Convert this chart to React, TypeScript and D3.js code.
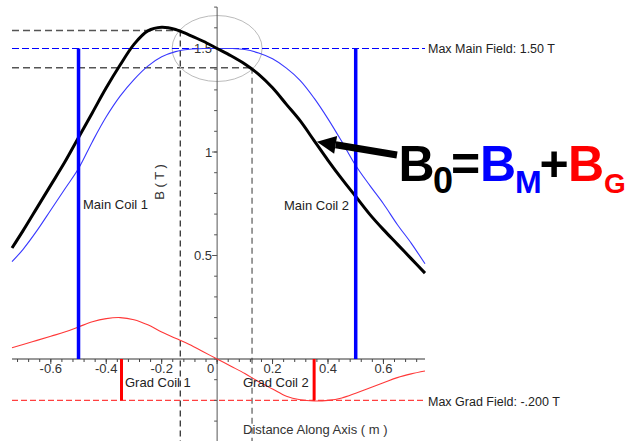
import React from "react";
import * as d3 from "d3";

// Positions along the magnet axis (m)
const positions = [
  -0.74, -0.7, -0.65, -0.6, -0.55, -0.5, -0.45, -0.4, -0.35, -0.3, -0.25, -0.2, -0.15, -0.1, -0.05, 0,
  0.05, 0.1, 0.15, 0.2, 0.25, 0.3, 0.35, 0.4, 0.45, 0.5, 0.55, 0.6, 0.65, 0.7, 0.75,
];

// Main-coil field B_M (T)
const mainField = [
  0.47, 0.53, 0.62, 0.72, 0.82, 0.92, 1.05, 1.17, 1.27, 1.35, 1.415, 1.46, 1.485, 1.496, 1.5, 1.5,
  1.5, 1.495, 1.478, 1.45, 1.405, 1.345, 1.26, 1.16, 1.05, 0.935, 0.84, 0.75, 0.65, 0.56, 0.46,
];

// Gradient-coil field B_G (T)
const gradField = [
  0.054, 0.07, 0.09, 0.11, 0.13, 0.155, 0.18, 0.195, 0.2, 0.19, 0.165, 0.13, 0.1, 0.07, 0.035, 0,
  -0.035, -0.07, -0.11, -0.145, -0.18, -0.197, -0.203, -0.2, -0.188, -0.165, -0.14, -0.115, -0.09, -0.072, -0.058,
];

// Total field B_0 (T)
const totalField = [
  0.536, 0.62, 0.73, 0.84, 0.95, 1.07, 1.19, 1.31, 1.42, 1.52, 1.585, 1.603, 1.592, 1.565, 1.535, 1.5,
  1.465, 1.425, 1.375, 1.31, 1.23, 1.15, 1.055, 0.96, 0.87, 0.785, 0.7, 0.625, 0.555, 0.485, 0.415,
];

const mainCoils = [-0.5, 0.5];
const mainCoilLabels = ["Main Coil 1", "Main Coil 2"];
const gradCoils = [-0.345, 0.35];
const gradCoilLabels = ["Grad Coil 1", "Grad Coil 2"];
const maxMainField = 1.5;
const maxGradField = -0.2;
const markerXs = [-0.133, 0.126];
const markerB = [1.587, 1.407];
const xMajorTicks = [-0.6, -0.4, -0.2, 0, 0.2, 0.4, 0.6];
const yMajorTicks = [0.5, 1, 1.5];
const yTickLabels = ["0.5", "1", "1.5"];
const arrowTarget = { x: 0.36, b: 1.05 };

const W = 628;
const H = 441;
const FONT = "'Liberation Sans', Arial, Helvetica, sans-serif";

export default function App() {
  const x = d3.scaleLinear().domain([-0.74, 0.75]).range([12, 425]);
  const y = d3.scaleLinear().domain([-0.4, 1.7]).range([441.8, 7.1]);
  const [x0, x1] = x.range();

  const line = (vals: number[]) =>
    d3
      .line<number>()
      .x((_, i) => x(positions[i]))
      .y((v) => y(v))
      .curve(d3.curveCatmullRom.alpha(0.5))(vals) || "";

  const xMinor = d3.range(-0.72, 0.7401, 0.04);
  const yMinor = d3.range(-0.3, 1.701, 0.1);

  // annotation arrow
  const tail = { px: 397, py: 155 };
  const tip = { px: x(arrowTarget.x), py: y(arrowTarget.b) };
  const dx = tip.px - tail.px;
  const dy = tip.py - tail.py;
  const len = Math.hypot(dx, dy);
  const ux = dx / len;
  const uy = dy / len;
  const headLen = 19;
  const headHalf = 9;
  const bx = tip.px - ux * headLen;
  const by = tip.py - uy * headLen;
  const head = [
    [tip.px, tip.py],
    [bx - uy * headHalf, by + ux * headHalf],
    [bx + uy * headHalf, by - ux * headHalf],
  ]
    .map((p) => p.join(","))
    .join(" ");

  return (
    <svg
      width={W}
      height={H}
      style={{ position: "absolute", left: 0, top: 0, background: "#fff" }}
      fontFamily={FONT}
    >
      <rect width={W} height={H} fill="#fff" />

      {/* field markers at the two points around the centre */}
      <line x1={x0} x2={x(markerXs[0])} y1={y(markerB[0])} y2={y(markerB[0])} stroke="#555" strokeWidth={1.3} strokeDasharray="7,4" />
      <line x1={x(markerXs[0])} x2={x(markerXs[0])} y1={y(markerB[0])} y2={H} stroke="#111" strokeWidth={1.1} strokeDasharray="6,4" />
      <line x1={x0} x2={x(markerXs[1])} y1={y(markerB[1])} y2={y(markerB[1])} stroke="#555" strokeWidth={1.3} strokeDasharray="7,4" />
      <line x1={x(markerXs[1])} x2={x(markerXs[1])} y1={y(markerB[1])} y2={H} stroke="#666" strokeWidth={1.3} strokeDasharray="6,4" />

      {/* highlight around the centre of the magnet */}
      <ellipse cx={x(0)} cy={y(maxMainField)} rx={45} ry={33} fill="none" stroke="#bbb" strokeWidth={1} />

      {/* max field guides */}
      <line x1={x0} x2={x1} y1={y(maxMainField)} y2={y(maxMainField)} stroke="#0000ff" strokeWidth={1} strokeDasharray="7,3" />
      <line x1={x0} x2={x1} y1={y(maxGradField)} y2={y(maxGradField)} stroke="#ff4040" strokeWidth={1.2} strokeDasharray="6,3" />
      <text x={428} y={y(maxMainField) + 4.5} fontSize={12.5} fill="#222">
        Max Main Field: 1.50 T
      </text>
      <text x={428} y={y(maxGradField) + 5.5} fontSize={12.5} fill="#222">
        Max Grad Field: -.200 T
      </text>

      {/* axes */}
      <line x1={x0} x2={x1} y1={y(0)} y2={y(0)} stroke="#333" strokeWidth={1} />
      <line x1={x(0)} x2={x(0)} y1={y(1.7)} y2={H} stroke="#555" strokeWidth={1} />
      {xMinor.map((t) => (
        <line key={"xm" + t} x1={x(t)} x2={x(t)} y1={y(0)} y2={y(0) + 3} stroke="#444" />
      ))}
      {xMajorTicks.map((t) => (
        <line key={"xM" + t} x1={x(t)} x2={x(t)} y1={y(0)} y2={y(0) + 5} stroke="#444" />
      ))}
      {xMajorTicks.map((t) => (
        <text
          key={"xl" + t}
          x={t === 0 ? x(0) - 3 : x(t)}
          y={y(0) + 14}
          fontSize={13}
          fill="#333"
          textAnchor={t === 0 ? "end" : "middle"}
        >
          {t === 0 ? "0" : d3.format(".1f")(t).replace("−", "-")}
        </text>
      ))}
      {yMinor.map((t) => (
        <line key={"ym" + t.toFixed(2)} x1={x(0) - 3} x2={x(0)} y1={y(t)} y2={y(t)} stroke="#555" />
      ))}
      {yMajorTicks.map((t, i) => (
        <g key={"yM" + t}>
          <line x1={x(0) - 5} x2={x(0)} y1={y(t)} y2={y(t)} stroke="#555" />
          <text x={x(0) - 5} y={y(t) + 4.5} fontSize={13} fill="#333" textAnchor="end">
            {yTickLabels[i]}
          </text>
        </g>
      ))}
      <text
        transform={`translate(${164},${182}) rotate(-90)`}
        fontSize={13}
        fill="#333"
        textAnchor="middle"
      >
        B ( T )
      </text>
      <text x={243} y={434} fontSize={13} fill="#333">
        Distance Along Axis ( m )
      </text>

      {/* field curves */}
      <path d={line(gradField)} fill="none" stroke="#ff3838" strokeWidth={1.1} />
      <path d={line(mainField)} fill="none" stroke="#3838ff" strokeWidth={1.1} />
      <path d={line(totalField)} fill="none" stroke="#000" strokeWidth={3} />

      {/* coil positions */}
      {mainCoils.map((c) => (
        <line key={"mc" + c} x1={x(c)} x2={x(c)} y1={y(maxMainField)} y2={y(0)} stroke="#0000ff" strokeWidth={3.5} />
      ))}
      {gradCoils.map((c) => (
        <line key={"gc" + c} x1={x(c)} x2={x(c)} y1={y(0)} y2={y(maxGradField)} stroke="#ff0000" strokeWidth={3} />
      ))}
      <text x={83} y={209} fontSize={13} fill="#222">{mainCoilLabels[0]}</text>
      <text x={284} y={210} fontSize={13} fill="#222">{mainCoilLabels[1]}</text>
      <text x={125} y={387} fontSize={13} fill="#222">{gradCoilLabels[0]}</text>
      <text x={243} y={387} fontSize={13} fill="#222">{gradCoilLabels[1]}</text>

      {/* annotation */}
      <line x1={tail.px} y1={tail.py} x2={bx} y2={by} stroke="#000" strokeWidth={7} />
      <polygon points={head} fill="#000" />
      <g fontWeight="bold">
        <text x={398.5} y={181} fontSize={50} fill="#000">B</text>
        <text x={433} y={193} fontSize={36} fill="#000">0</text>
        <text x={451} y={181} fontSize={50} fill="#000">=</text>
        <text x={480} y={181} fontSize={50} fill="#0000ff">B</text>
        <text x={515} y={193} fontSize={32} fill="#0000ff">M</text>
        <text x={539.5} y={181} fontSize={50} fill="#000">+</text>
        <text x={568} y={181} fontSize={50} fill="#ff0000">B</text>
        <text x={604} y={193} fontSize={28} fill="#ff0000">G</text>
      </g>
    </svg>
  );
}
